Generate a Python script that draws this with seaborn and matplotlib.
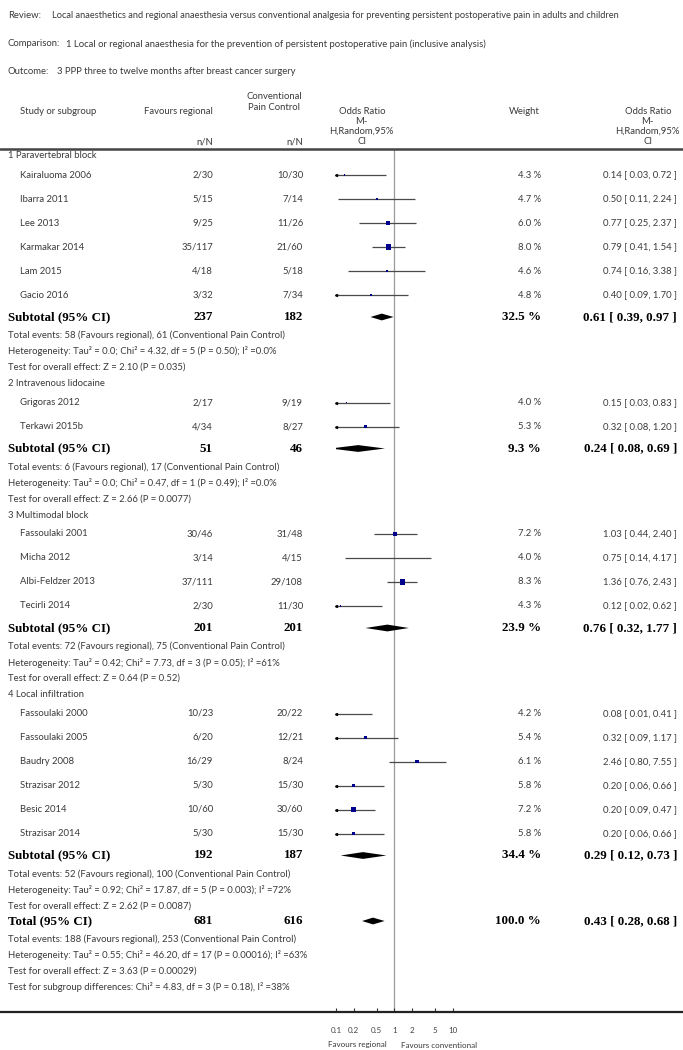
import numpy as np
import pandas as pd
import matplotlib
matplotlib.use("Agg")
import matplotlib.pyplot as plt
import matplotlib.transforms as mtransforms
from matplotlib.lines import Line2D
from matplotlib.ticker import NullLocator
import seaborn as sns

# ---------------- data ----------------
review = ("Local anaesthetics and regional anaesthesia versus conventional analgesia "
          "for preventing persistent postoperative pain in adults and children")
comparison = ("1 Local or regional anaesthesia for the prevention of persistent "
              "postoperative pain (inclusive analysis)")
outcome = "3 PPP three to twelve months after breast cancer surgery"

group_names = ["1 Paravertebral block", "2 Intravenous lidocaine",
               "3 Multimodal block", "4 Local infiltration"]

study_names = ["Kairaluoma 2006", "Ibarra 2011", "Lee 2013", "Karmakar 2014", "Lam 2015", "Gacio 2016",
               "Grigoras 2012", "Terkawi 2015b",
               "Fassoulaki 2001", "Micha 2012", "Albi-Feldzer 2013", "Tecirli 2014",
               "Fassoulaki 2000", "Fassoulaki 2005", "Baudry 2008", "Strazisar 2012", "Besic 2014", "Strazisar 2014"]
study_group = [0, 0, 0, 0, 0, 0, 1, 1, 2, 2, 2, 2, 3, 3, 3, 3, 3, 3]
reg_events = [2, 5, 9, 35, 4, 3, 2, 4, 30, 3, 37, 2, 10, 6, 16, 5, 10, 5]
reg_total = [30, 15, 25, 117, 18, 32, 17, 34, 46, 14, 111, 30, 23, 20, 29, 30, 60, 30]
con_events = [10, 7, 11, 21, 5, 7, 9, 8, 31, 4, 29, 11, 20, 12, 8, 15, 30, 15]
con_total = [30, 14, 26, 60, 18, 34, 19, 27, 48, 15, 108, 30, 22, 21, 24, 30, 60, 30]
weights = [4.3, 4.7, 6.0, 8.0, 4.6, 4.8, 4.0, 5.3, 7.2, 4.0, 8.3, 4.3, 4.2, 5.4, 6.1, 5.8, 7.2, 5.8]
odds = [0.14, 0.50, 0.77, 0.79, 0.74, 0.40, 0.15, 0.32, 1.03, 0.75, 1.36, 0.12,
        0.08, 0.32, 2.46, 0.20, 0.20, 0.20]
ci_low = [0.03, 0.11, 0.25, 0.41, 0.16, 0.09, 0.03, 0.08, 0.44, 0.14, 0.76, 0.02,
          0.01, 0.09, 0.80, 0.06, 0.09, 0.06]
ci_high = [0.72, 2.24, 2.37, 1.54, 3.38, 1.70, 0.83, 1.20, 2.40, 4.17, 2.43, 0.62,
           0.41, 1.17, 7.55, 0.66, 0.47, 0.66]

sub_reg_n = [237, 51, 201, 192]
sub_con_n = [182, 46, 201, 187]
sub_weight = [32.5, 9.3, 23.9, 34.4]
sub_or = [0.61, 0.24, 0.76, 0.29]
sub_low = [0.39, 0.08, 0.32, 0.12]
sub_high = [0.97, 0.69, 1.77, 0.73]
sub_events_reg = [58, 6, 72, 52]
sub_events_con = [61, 17, 75, 100]
sub_het = ["Tau² = 0.0; Chi² = 4.32, df = 5 (P = 0.50); I² =0.0%",
           "Tau² = 0.0; Chi² = 0.47, df = 1 (P = 0.49); I² =0.0%",
           "Tau² = 0.42; Chi² = 7.73, df = 3 (P = 0.05); I² =61%",
           "Tau² = 0.92; Chi² = 17.87, df = 5 (P = 0.003); I² =72%"]
sub_z = ["Z = 2.10 (P = 0.035)", "Z = 2.66 (P = 0.0077)",
         "Z = 0.64 (P = 0.52)", "Z = 2.62 (P = 0.0087)"]

total_reg_n = 681
total_con_n = 616
total_weight = 100.0
total_or = 0.43
total_low = 0.28
total_high = 0.68
total_events_reg = 188
total_events_con = 253
total_het = "Tau² = 0.55; Chi² = 46.20, df = 17 (P = 0.00016); I² =63%"
total_z = "Z = 3.63 (P = 0.00029)"
subgroup_diff = "Chi² = 4.83, df = 3 (P = 0.18), I² =38%"

xticks = [0.1, 0.2, 0.5, 1, 2, 5, 10]
xtick_labels = ["0.1", "0.2", "0.5", "1", "2", "5", "10"]

# ---------------- style ----------------
sns.set_theme(style="white")
plt.rcParams["font.family"] = ["Lato", "DejaVu Sans"]

W, H = 683, 1050
fig = plt.figure(figsize=(W / 100, H / 100), dpi=100)
fig.patch.set_facecolor("white")

x_lo_px, x_hi_px = 336.0, 452.7
top_px, bot_px = 149.0, 1012.0
ax = fig.add_axes([x_lo_px / W, 1 - bot_px / H, (x_hi_px - x_lo_px) / W, (bot_px - top_px) / H])
ax.set_xscale("log")
ax.set_xlim(0.1, 10)
ax.set_ylim(bot_px, top_px)
ax.set_facecolor("none")
for s in ax.spines.values():
    s.set_visible(False)

tr = mtransforms.blended_transform_factory(fig.transFigure, ax.transData)

TXT = "#3a3a3a"
BODY = 6.8
BOLD = 9.4
SERIF = ["Liberation Serif", "DejaVu Serif"]


def T(xpx, y, s, ha="left", size=BODY, bold=False, **kw):
    fam = SERIF if bold else ["Lato", "DejaVu Sans"]
    ax.text(xpx / W, y, s, transform=tr, ha=ha, va="center", fontsize=size,
            family=fam, fontweight="bold" if bold else "normal",
            color="black" if bold else TXT, clip_on=False, **kw)


# header
T(8, 15, "Review:")
T(52, 15, review, size=6.65)
T(8, 44, "Comparison:")
T(66, 44, comparison)
T(8, 72, "Outcome:")
T(57, 72, outcome)

T(20, 111, "Study or subgroup")
T(213, 111, "Favours regional", ha="right")
T(302, 102, "Conventional\nPain Control", ha="right", multialignment="center", linespacing=1.2)
T(213, 142, "n/N", ha="right")
T(303, 142, "n/N", ha="right")
T(394, 126.5, "Odds Ratio\nM-\nH,Random,95%\nCI", ha="right", multialignment="center", linespacing=1.12)
T(540, 111, "Weight", ha="right")
T(680, 126.5, "Odds Ratio\nM-\nH,Random,95%\nCI", ha="right", multialignment="center", linespacing=1.12)

fig.add_artist(Line2D([0, 1], [1 - top_px / H] * 2, transform=fig.transFigure, color="#444444", lw=1.8))
fig.add_artist(Line2D([0, 1], [1 - bot_px / H] * 2, transform=fig.transFigure, color="#222222", lw=1.6))


def fmt_or(o, l, h):
    return f"{o:.2f} [ {l:.2f}, {h:.2f} ]"


# layout
y = 156.0
study_y = [0.0] * len(study_names)
sub_y = []
for g, gname in enumerate(group_names):
    T(8, y, gname)
    y += 19
    idx = [i for i, sg in enumerate(study_group) if sg == g]
    for k, i in enumerate(idx):
        if k > 0:
            y += 24
        study_y[i] = y
        T(20, y, study_names[i])
        T(213, y, f"{reg_events[i]}/{reg_total[i]}", ha="right")
        T(303, y, f"{con_events[i]}/{con_total[i]}", ha="right")
        T(541, y, f"{weights[i]:.1f} %", ha="right")
        T(677, y, fmt_or(odds[i], ci_low[i], ci_high[i]), ha="right")
    y += 22
    sub_y.append(y)
    T(8, y, "Subtotal (95% CI)", bold=True, size=BOLD)
    T(213, y, f"{sub_reg_n[g]}", ha="right", bold=True, size=BOLD)
    T(303, y, f"{sub_con_n[g]}", ha="right", bold=True, size=BOLD)
    T(541, y, f"{sub_weight[g]:.1f} %", ha="right", bold=True, size=BOLD)
    T(677, y, fmt_or(sub_or[g], sub_low[g], sub_high[g]), ha="right", bold=True, size=BOLD)
    y += 18.5
    T(8, y, f"Total events: {sub_events_reg[g]} (Favours regional), {sub_events_con[g]} (Conventional Pain Control)")
    y += 16
    T(8, y, f"Heterogeneity: {sub_het[g]}")
    y += 16
    T(8, y, f"Test for overall effect: {sub_z[g]}")
    y += 16 if g < len(group_names) - 1 else 15

total_y = y
T(8, y, "Total (95% CI)", bold=True, size=BOLD)
T(213, y, f"{total_reg_n}", ha="right", bold=True, size=BOLD)
T(303, y, f"{total_con_n}", ha="right", bold=True, size=BOLD)
T(541, y, f"{total_weight:.1f} %", ha="right", bold=True, size=BOLD)
T(677, y, fmt_or(total_or, total_low, total_high), ha="right", bold=True, size=BOLD)
y += 18.5
T(8, y, f"Total events: {total_events_reg} (Favours regional), {total_events_con} (Conventional Pain Control)")
y += 16
T(8, y, f"Heterogeneity: {total_het}")
y += 16
T(8, y, f"Test for overall effect: {total_z}")
y += 16
T(8, y, f"Test for subgroup differences: {subgroup_diff}")

# ---------------- forest marks ----------------
ax.axvline(1, color="#9a9a9a", lw=0.9, zorder=0)

df = pd.DataFrame({"name": study_names, "y": study_y, "or": odds,
                   "lo": ci_low, "hi": ci_high, "weight": weights})
ax.hlines(df["y"], df["lo"], df["hi"], color="#4a4a4a", lw=0.9, zorder=2)
clipped = df[df["lo"] < xticks[0]]
ax.plot(np.full(len(clipped), xticks[0]), clipped["y"], ls="none", marker="<",
        ms=1.5, color="black", clip_on=False, zorder=3)
sns.scatterplot(data=df, x="or", y="y", size="weight", sizes=(0.5, 14), size_norm=(4.0, 8.3),
                marker="s", color="#00008b", edgecolor="none", linewidth=0,
                legend=False, ax=ax, zorder=4)

h = 3.4
dia_or = sub_or + [total_or]
dia_lo = sub_low + [total_low]
dia_hi = sub_high + [total_high]
dia_y = sub_y + [total_y]
for o, l, hh, yy in zip(dia_or, dia_lo, dia_hi, dia_y):
    ax.fill([l, o, hh, o], [yy, yy - h, yy, yy + h], color="black", lw=0, zorder=4)

ax.set_xticks(xticks)
ax.set_xticklabels(xtick_labels)
ax.xaxis.set_minor_locator(NullLocator())
ax.set_yticks([])
ax.set_xlabel("")
ax.set_ylabel("")
ax.tick_params(axis="x", direction="in", length=3, width=0.8, pad=11,
               labelsize=5.8, colors="#333333", bottom=True)
for lab in ax.get_xticklabels():
    lab.set_color("#444444")

T(357, 1045, "Favours regional", ha="center", size=5.8)
T(439, 1045, "Favours conventional", ha="center", size=5.8)

fig.savefig("out.png", dpi=100, facecolor="white")
